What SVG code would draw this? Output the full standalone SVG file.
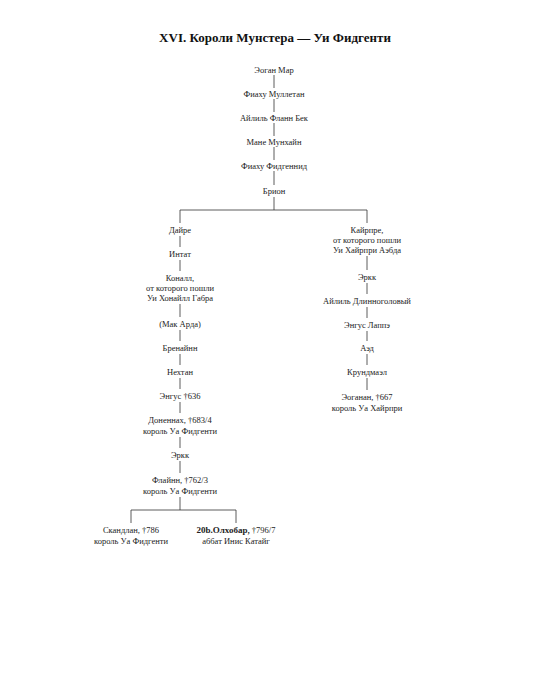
<svg xmlns="http://www.w3.org/2000/svg" width="550" height="700" viewBox="0 0 550 700">
<style>
text{font-family:"Liberation Serif","DejaVu Serif",serif;font-size:8.5px;fill:#222;text-anchor:middle}
.t{font-size:13px;font-weight:bold;fill:#111}
.b{font-weight:bold;font-size:9px}
.c line{stroke:#333;stroke-width:0.8}
</style>
<rect width="550" height="700" fill="#fff"/>
<text class="t" x="275" y="42">XVI. Короли Мунстера — Уи Фидгенти</text>
<g class="c">
<line x1="274" y1="75" x2="274" y2="88"/>
<line x1="274" y1="99" x2="274" y2="112"/>
<line x1="274" y1="123" x2="274" y2="136"/>
<line x1="274" y1="147" x2="274" y2="160"/>
<line x1="274" y1="171" x2="274" y2="185"/>
<line x1="274" y1="197" x2="274" y2="210"/>
<line x1="180" y1="210" x2="367" y2="210"/>
<line x1="180" y1="210" x2="180" y2="223"/>
<line x1="367" y1="210" x2="367" y2="223"/>
<line x1="180" y1="236" x2="180" y2="247"/>
<line x1="180" y1="260" x2="180" y2="271"/>
<line x1="180" y1="304" x2="180" y2="317"/>
<line x1="180" y1="330" x2="180" y2="341"/>
<line x1="180" y1="354" x2="180" y2="365"/>
<line x1="180" y1="378" x2="180" y2="389"/>
<line x1="180" y1="402" x2="180" y2="413"/>
<line x1="180" y1="437" x2="180" y2="448"/>
<line x1="180" y1="461" x2="180" y2="473"/>
<line x1="180" y1="497" x2="180" y2="510"/>
<line x1="131" y1="510" x2="236" y2="510"/>
<line x1="131" y1="510" x2="131" y2="523"/>
<line x1="236" y1="510" x2="236" y2="523"/>
<line x1="367" y1="256" x2="367" y2="270"/>
<line x1="367" y1="283" x2="367" y2="294"/>
<line x1="367" y1="307" x2="367" y2="318"/>
<line x1="367" y1="331" x2="367" y2="341"/>
<line x1="367" y1="354" x2="367" y2="365"/>
<line x1="367" y1="378" x2="367" y2="390"/>
</g>
<g id="n1"><text x="274" y="73">Эоган Мар</text></g>
<g id="n2"><text x="274" y="97">Фиаху Муллетан</text></g>
<g id="n3"><text x="274" y="121">Айлиль Фланн Бек</text></g>
<g id="n4"><text x="274" y="145">Мане Мунхайн</text></g>
<g id="n5"><text x="274" y="169">Фиаху Фидгеннид</text></g>
<g id="n6"><text x="274" y="194">Брион</text></g>
<g id="l1"><text x="180" y="233">Дайре</text></g>
<g id="l2"><text x="180" y="257">Интат</text></g>
<g id="l3"><text x="180" y="281">Коналл,</text><text x="180" y="291">от которого пошли</text><text x="180" y="301">Уи Хонайлл Габра</text></g>
<g id="l4"><text x="180" y="327">(Мак Арда)</text></g>
<g id="l5"><text x="180" y="351">Бренайнн</text></g>
<g id="l6"><text x="180" y="375">Нехтан</text></g>
<g id="l7"><text x="180" y="399">Энгус †636</text></g>
<g id="l8"><text x="180" y="423">Доненнах, †683/4</text><text x="180" y="434">король Уа Фидгенти</text></g>
<g id="l9"><text x="180" y="458">Эркк</text></g>
<g id="l10"><text x="180" y="483">Флайнн, †762/3</text><text x="180" y="494">король Уа Фидгенти</text></g>
<g id="l11"><text x="131" y="533">Скандлан, †786</text><text x="131" y="544">король Уа Фидгенти</text></g>
<g id="l12"><text x="236" y="533"><tspan class="b">20b.Олхобар,</tspan> †796/7</text><text x="236" y="544">аббат Инис Катайг</text></g>
<g id="r1"><text x="367" y="233">Кайрпре,</text><text x="367" y="243">от которого пошли</text><text x="367" y="253">Уи Хайрпри Аэбда</text></g>
<g id="r2"><text x="367" y="280">Эркк</text></g>
<g id="r3"><text x="367" y="304">Айлиль Длинноголовый</text></g>
<g id="r4"><text x="367" y="328">Энгус Лаппэ</text></g>
<g id="r5"><text x="367" y="351">Аэд</text></g>
<g id="r6"><text x="367" y="375">Крундмаэл</text></g>
<g id="r7"><text x="367" y="400">Эоганан, †667</text><text x="367" y="411">король Уа Хайрпри</text></g>
</svg>
